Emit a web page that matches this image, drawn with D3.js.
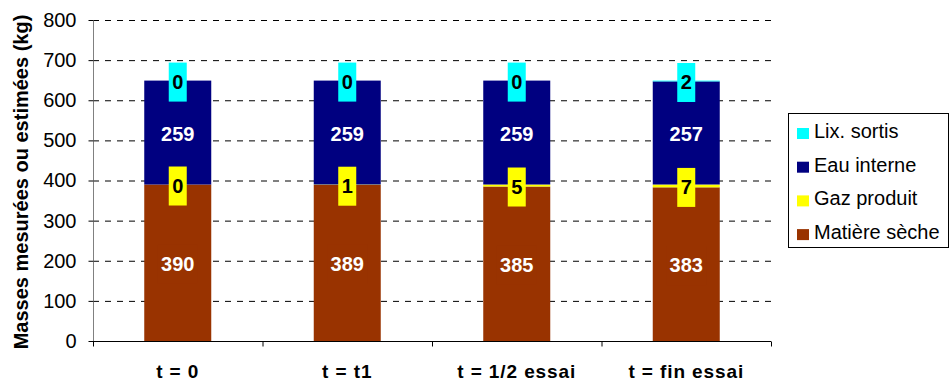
<!DOCTYPE html>
<html lang="fr">
<head>
    <meta charset="UTF-8">
    <title>Masses mesurées ou estimées</title>
    <script src="https://d3js.org/d3.v7.min.js"></script>
    <style>
        body { margin: 0; background: white; }
        text { font-family: Arial, "Liberation Sans", sans-serif; }
    </style>
</head>
<body>
<svg id="main" width="950" height="385"></svg>
<script>
    // data
    let categories = ["t = 0", "t = t1", "t = 1/2 essai", "t = fin essai"];
    let seriesNames = ["Matière sèche", "Gaz produit", "Eau interne", "Lix. sortis"];
    let matiereSeche = [390, 389, 385, 383];
    let gazProduit = [0, 1, 5, 7];
    let eauInterne = [259, 259, 259, 257];
    let lixSortis = [0, 0, 0, 2];
    let yTicks = [0, 100, 200, 300, 400, 500, 600, 700, 800];

    let colors = ["#993300", "#FFFF00", "#000080", "#00FFFF"];
    let labelColors = ["white", "black", "white", "black"];

    let svg = d3.select('svg#main');
    let margins = {left: 93, right: 179, top: 20, bottom: 44};
    let W = 950, H = 385;

    // build stacked table
    let table = categories.map(function (c, i) {
        return {cat: c, s0: matiereSeche[i], s1: gazProduit[i], s2: eauInterne[i], s3: lixSortis[i]};
    });
    let stack = d3.stack().keys(["s0", "s1", "s2", "s3"])(table);

    let x = d3.scaleBand().domain(categories)
        .range([margins.left, W - margins.right]).paddingInner(0).paddingOuter(0);
    let y = d3.scaleLinear().domain([0, 800]).range([H - margins.bottom, margins.top]);
    let barW = 67;

    // dashed grid lines
    svg.append('g').selectAll('line').data(yTicks.filter(function (d) { return d > 0; }))
        .join('line')
        .attr('x1', margins.left).attr('x2', W - margins.right)
        .attr('y1', function (d) { return y(d) + 0.5; })
        .attr('y2', function (d) { return y(d) + 0.5; })
        .style('stroke', 'black').style('stroke-width', 1)
        .style('stroke-dasharray', '6,6');

    // bars
    let layers = svg.append('g').selectAll('g').data(stack).join('g')
        .style('fill', function (d, i) { return colors[i]; });
    layers.selectAll('rect').data(function (d) { return d; }).join('rect')
        .attr('x', function (d) { return x(d.data.cat) + (x.bandwidth() - barW) / 2; })
        .attr('width', barW)
        .attr('y', function (d) { return y(d[1]); })
        .attr('height', function (d) { return y(d[0]) - y(d[1]); });

    // data labels
    stack.forEach(function (layer, i) {
        let g = svg.append('g');
        layer.forEach(function (d) {
            let cx = x(d.data.cat) + x.bandwidth() / 2;
            let cy = y((d[0] + d[1]) / 2);
            let txt = String(d[1] - d[0]);
            let bw = txt.length * 11 + 7;
            g.append('rect')
                .attr('x', cx - bw / 2).attr('y', cy - 18)
                .attr('width', bw).attr('height', 39)
                .style('fill', colors[i]);
            g.append('text')
                .attr('x', cx).attr('y', cy + 8)
                .attr('text-anchor', 'middle')
                .style('font-size', '20px').style('font-weight', 'bold')
                .style('fill', labelColors[i])
                .text(txt);
        });
    });

    // axes
    let yAxis = svg.append('g')
        .attr('transform', 'translate(' + (margins.left + 0.5) + ',0)')
        .call(d3.axisLeft(y).tickValues(yTicks).tickSize(5).tickPadding(12));
    yAxis.selectAll('text').style('font-size', '20px').style('fill', 'black')
        .style('font-family', 'Arial, "Liberation Sans", sans-serif');
    yAxis.select('.domain').attr('d', 'M0,' + y(800) + 'V' + (y(0) + 0.5)).style('stroke', '#808080');
    yAxis.selectAll('.tick line').style('stroke', 'black');

    let xAxis = svg.append('g')
        .attr('transform', 'translate(0,' + (y(0) + 0.5) + ')');
    xAxis.append('line')
        .attr('x1', margins.left).attr('x2', W - margins.right)
        .style('stroke', 'black');
    xAxis.selectAll('line.tk').data(d3.range(categories.length + 1)).join('line')
        .attr('class', 'tk')
        .attr('x1', function (i) { return margins.left + i * x.bandwidth() + 0.5; })
        .attr('x2', function (i) { return margins.left + i * x.bandwidth() + 0.5; })
        .attr('y1', 0).attr('y2', 5).style('stroke', 'black');
    xAxis.selectAll('text').data(categories).join('text')
        .attr('x', function (d) { return x(d) + x.bandwidth() / 2; })
        .attr('y', 36)
        .attr('text-anchor', 'middle')
        .style('font-size', '19px').style('font-weight', 'bold')
        .style('letter-spacing', '0.9px')
        .text(function (d) { return d; });

    // y title
    svg.append('text')
        .attr('transform', 'translate(28,' + 182 + ') rotate(-90)')
        .attr('text-anchor', 'middle')
        .style('font-size', '20px').style('font-weight', 'bold')
        .text('Masses mesurées ou estimées (kg)');

    // legend
    let legend = svg.append('g');
    legend.append('rect')
        .attr('x', 788.5).attr('y', 113.5).attr('width', 160).attr('height', 134)
        .style('fill', 'white').style('stroke', 'black');
    let legendOrder = [3, 2, 1, 0];
    legendOrder.forEach(function (k, j) {
        let cy = 131 + j * 33.7;
        legend.append('rect')
            .attr('x', 797).attr('y', cy - 3).attr('width', 12).attr('height', 11)
            .style('fill', colors[k]);
        legend.append('text')
            .attr('x', 814).attr('y', cy + 7)
            .style('font-size', '20px')
            .text(seriesNames[k]);
    });
</script>
</body>
</html>
